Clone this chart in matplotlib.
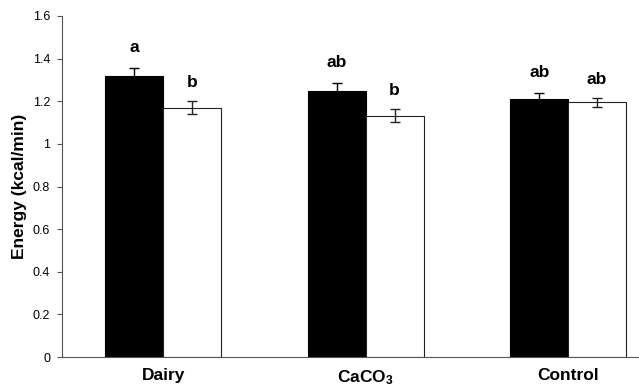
import matplotlib
matplotlib.use("Agg")
import matplotlib.pyplot as plt
import numpy as np

plt.rcParams['font.family'] = ['Liberation Sans', 'DejaVu Sans']
plt.rcParams['mathtext.fontset'] = 'custom'
plt.rcParams['mathtext.rm'] = 'Liberation Sans:bold'
plt.rcParams['mathtext.default'] = 'rm'

categories = ["Dairy", "CaCO$_3$", "Control"]
black_vals = [1.32, 1.247, 1.209]
black_err = [0.038, 0.037, 0.031]
white_vals = [1.170, 1.132, 1.195]
white_err = [0.030, 0.031, 0.020]
black_letters = ["a", "ab", "ab"]
white_letters = ["b", "b", "ab"]
yticks = [0, 0.2, 0.4, 0.6, 0.8, 1, 1.2, 1.4, 1.6]
ytick_labels = ["0", "0.2", "0.4", "0.6", "0.8", "1", "1.2", "1.4", "1.6"]

fig = plt.figure(figsize=(6.39, 3.91), dpi=100)
ax = fig.add_axes([62/639, 34/391, 1 - 62/639, (357-16)/391])

x = np.arange(len(categories))
w = 0.286
ax.bar(x - w/2, black_vals, w, color='black', edgecolor='black', linewidth=0.8,
       yerr=black_err, error_kw=dict(ecolor='black', elinewidth=1.0, capsize=3.5, capthick=1.0))
ax.bar(x + w/2, white_vals, w, color='white', edgecolor='#222222', linewidth=0.8,
       yerr=white_err, error_kw=dict(ecolor='#222222', elinewidth=1.0, capsize=3.5, capthick=1.0))

for i in range(len(categories)):
    ax.text(x[i] - w/2, black_vals[i] + black_err[i] + 0.075, black_letters[i],
            ha='center', va='baseline', fontsize=12.5, fontweight='bold')
    ax.text(x[i] + w/2, white_vals[i] + white_err[i] + 0.068, white_letters[i],
            ha='center', va='baseline', fontsize=12.5, fontweight='bold')

ax.set_xlim(-0.5, 2.35)
ax.set_ylim(0, 1.6)
ax.set_yticks(yticks)
ax.set_yticklabels(ytick_labels, fontsize=9)
ax.set_xticks(x)
ax.set_xticklabels(categories, fontsize=12.5, fontweight='bold')
ax.tick_params(axis='x', length=0, pad=8)
ax.tick_params(axis='y', length=3.6, direction='out', color='#555555', width=0.8, pad=5)
ax.set_ylabel("Energy (kcal/min)", fontsize=12.5, fontweight='bold', labelpad=4)
for s in ['top', 'right']:
    ax.spines[s].set_visible(False)
for s in ['left', 'bottom']:
    ax.spines[s].set_color('#555555')
    ax.spines[s].set_linewidth(0.8)

fig.savefig("out.png", dpi=100)
